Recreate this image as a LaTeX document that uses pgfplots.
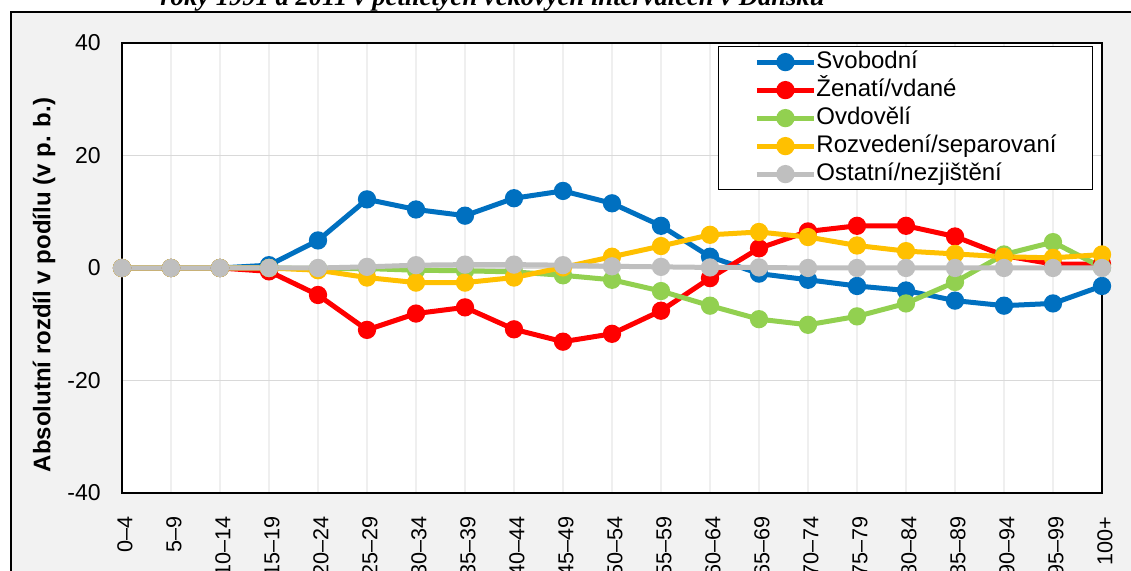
\documentclass[border=0pt]{standalone}
\usepackage{fontspec}
\setmainfont{Liberation Sans}
\newfontfamily\titlefont{Liberation Serif}
\usepackage{pgfplots}
\pgfplotsset{compat=1.18}
\definecolor{cblue}{HTML}{0070C0}
\definecolor{cred}{HTML}{FF0000}
\definecolor{cgreen}{HTML}{92D050}
\definecolor{cyellow}{HTML}{FFC000}
\definecolor{cgray}{HTML}{BFBFBF}
\definecolor{bg}{HTML}{F2F2F2}
\definecolor{hgrid}{HTML}{D9D9D9}
\definecolor{vgrid}{HTML}{EFEFEF}
\begin{document}
\begin{tikzpicture}
\path[use as bounding box] (0,0) rectangle (565.5pt,285.5pt);
\clip (0,0) rectangle (565.5pt,285.5pt);
\fill[white] (0,0) rectangle (565.5pt,285.5pt);
\filldraw[fill=bg, draw=black, line width=0.75pt] (5.5pt,279.5pt) rectangle (580pt,-20pt);
\node[anchor=base west, inner sep=0pt, font=\titlefont\bfseries\itshape\fontsize{13.3}{15}\selectfont] at (80pt,282.75pt) {roky 1991 a 2011 v pětiletých věkových intervalech v Dánsku};
\begin{axis}[
  at={(61pt,39pt)}, anchor=south west,
  scale only axis, width=490pt, height=225pt,
  xmin=0, xmax=20, ymin=-40, ymax=40,
  axis background/.style={fill=white},
  axis line style={black, line width=0.9pt},
  xtick={0,...,20},
  xticklabels={0–4,5–9,10–14,15–19,20–24,25–29,30–34,35–39,40–44,45–49,50–54,55–59,60–64,65–69,70–74,75–79,80–84,85–89,90–94,95–99,100+},
  ytick={-40,-20,0,20,40},
  major tick length=0pt,
  xmajorgrids, ymajorgrids,
  x grid style={vgrid, line width=0.6pt},
  y grid style={hgrid, line width=0.7pt},
  /pgf/number format/assume math mode=true,
  yticklabel style={font=\fontsize{11.5}{13}\selectfont, anchor=east, inner sep=0pt, xshift=-10.5pt},
  xticklabel style={font=\fontsize{10.8}{13}\selectfont, rotate=90, anchor=east, inner sep=0pt, xshift=-11.5pt, yshift=-1.5pt},
  ylabel={\bfseries Absolutní rozdíl v podílu (v p. b.)},
  ylabel style={font=\fontsize{12}{14}\selectfont, at={(axis description cs:-0.0796,0.462)}, anchor=center, rotate=0},
  legend cell align=left,
  legend style={at={(axis description cs:0.608,0.9933)}, anchor=north west,
    draw=black, line width=0.6pt, fill=white, font=\fontsize{12}{14}\selectfont,
    inner xsep=18pt, inner ysep=2pt, row sep=2.5pt,
    nodes={inner sep=0pt, text height=9pt, text depth=2.5pt}},
  legend image code/.code={\draw[mark repeat=2, mark phase=2, #1] plot coordinates {(0pt,0pt) (14.25pt,0pt) (28.5pt,0pt)};},
  every axis plot/.append style={line width=2.5pt, mark=*, mark size=3.3pt, mark options={solid}},
]
\addplot[cblue, mark options={fill=cblue, draw=cblue}] coordinates {(0,0) (1,0) (2,0) (3,0.5) (4,4.9) (5,12.2) (6,10.4) (7,9.3) (8,12.4) (9,13.7) (10,11.5) (11,7.5) (12,2.0) (13,-1.0) (14,-2.1) (15,-3.2) (16,-4.0) (17,-5.8) (18,-6.7) (19,-6.3) (20,-3.2)};
\addlegendentry{Svobodní}
\addplot[cred, mark options={fill=cred, draw=cred}] coordinates {(0,0) (1,0) (2,0) (3,-0.6) (4,-4.8) (5,-11.0) (6,-8.1) (7,-7.0) (8,-10.9) (9,-13.1) (10,-11.7) (11,-7.6) (12,-1.8) (13,3.5) (14,6.5) (15,7.5) (16,7.5) (17,5.6) (18,2.2) (19,0.7) (20,0.7)};
\addlegendentry{Ženatí/vdané}
\addplot[cgreen, mark options={fill=cgreen, draw=cgreen}] coordinates {(0,0) (1,0) (2,0) (3,0) (4,-0.1) (5,-0.1) (6,-0.4) (7,-0.5) (8,-0.7) (9,-1.3) (10,-2.1) (11,-4.1) (12,-6.7) (13,-9.1) (14,-10.1) (15,-8.6) (16,-6.3) (17,-2.5) (18,2.4) (19,4.6) (20,0.1)};
\addlegendentry{Ovdovělí}
\addplot[cyellow, mark options={fill=cyellow, draw=cyellow}] coordinates {(0,0) (1,0) (2,0) (3,0) (4,-0.4) (5,-1.7) (6,-2.6) (7,-2.6) (8,-1.7) (9,0.1) (10,2.0) (11,3.9) (12,5.9) (13,6.4) (14,5.5) (15,4.0) (16,3.0) (17,2.5) (18,2.0) (19,1.8) (20,2.4)};
\addlegendentry{Rozvedení/separovaní}
\addplot[cgray, mark options={fill=cgray, draw=cgray}] coordinates {(0,0) (1,0) (2,0) (3,0) (4,0.0) (5,0.2) (6,0.5) (7,0.6) (8,0.6) (9,0.5) (10,0.3) (11,0.2) (12,0.1) (13,0.1) (14,0.0) (15,0.0) (16,0) (17,0) (18,0) (19,0) (20,0)};
\addlegendentry{Ostatní/nezjištění}
\end{axis}
\end{tikzpicture}
\end{document}
